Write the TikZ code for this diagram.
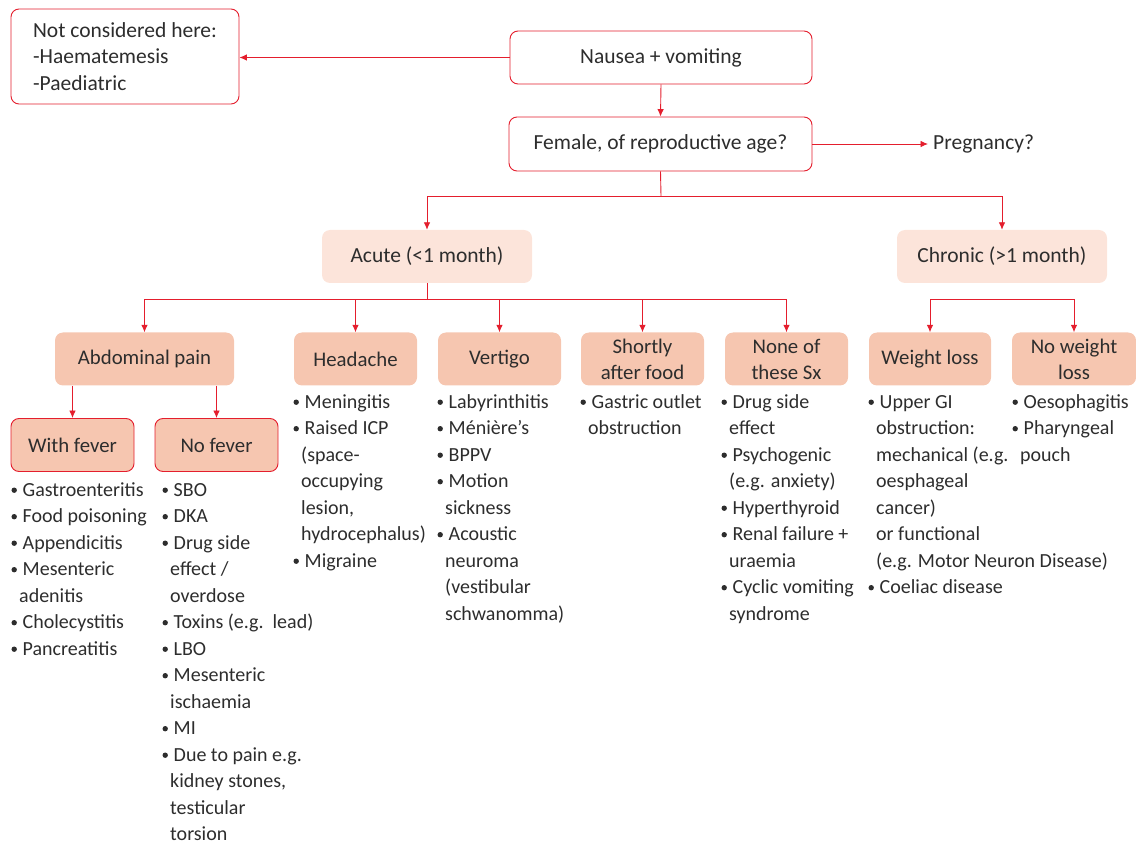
\documentclass[tikz,border=0pt]{standalone}
\usepackage{fontspec}
\setmainfont{Carlito}
\usetikzlibrary{arrows.meta}
\definecolor{redl}{RGB}{228,30,45}
\definecolor{peach}{RGB}{246,198,176}
\definecolor{lpeach}{RGB}{252,228,218}
\definecolor{txt}{RGB}{45,45,45}
\newcommand\bl{\makebox[11.5pt][l]{\hspace{0.3pt}\raisebox{3.3pt}{\tikz\fill[txt] (0pt,0pt) circle[radius=2.7pt];}}}
\newcommand\cn{\hspace*{8pt}}
\newcommand\fl{\rule{0pt}{15pt}}
\begin{document}
\begin{tikzpicture}[x=1pt,y=-1pt,
 every node/.style={text=txt, font=\fontsize{20}{26.5}\selectfont, inner sep=0pt},
 big/.style={font=\fontsize{21.5}{26.8}\selectfont},
 mid/.style={font=\fontsize{20.8}{26}\selectfont},
 wbox/.style={big, draw=redl, line width=0.9pt, fill=white, rounded corners=8pt},
 dbox/.style={mid, fill=peach, rounded corners=8pt, minimum width=123pt, minimum height=53pt, align=center},
 lbox/.style={big, fill=lpeach, rounded corners=8pt, minimum width=210pt, minimum height=53pt},
 fbox/.style={dbox, draw=redl, line width=0.9pt},
 lst/.style={anchor=north west, align=left},
 arr/.style={draw=redl, line width=0.9pt, -{Latex[length=7.5pt,width=6.5pt]}},
 ln/.style={draw=redl, line width=0.9pt}]
\useasboundingbox (0,0) rectangle (1136,842);

\node[wbox, minimum width=228pt, minimum height=95pt, align=left] (nc) at (125,56.5)
  {\rule{0pt}{0pt}Not considered here:\\-Haematemesis\\-Paediatric};
\node[wbox, minimum width=302pt, minimum height=53pt] (nv) at (661,57.5) {Nausea + vomiting};
\node[wbox, minimum width=303pt, minimum height=54pt] (fe) at (660.5,144) {Female, of reproductive age?};
\node[big, anchor=west, inner xsep=5pt] (pr) at (928,144) {Pregnancy?};

\node[lbox] (ac) at (427,256.5) {Acute (<1 month)};
\node[lbox] (ch) at (1002,256.5) {Chronic (>1 month)};

\node[dbox, minimum width=179pt] (ab) at (144.5,359) {Abdominal pain};
\node[dbox] (hd) at (355.5,359) {Headache};
\node[dbox] (vt) at (499.5,359) {Vertigo};
\node[dbox] (sf) at (642.5,359) {Shortly\\after food};
\node[dbox] (ns) at (786.5,359) {None of\\these Sx};
\node[dbox, minimum width=122pt] (wl) at (930,359) {Weight loss};
\node[dbox, minimum width=124pt] (nw) at (1074,359) {No weight\\loss};

\node[fbox] (wf) at (72.5,445) {With fever};
\node[fbox] (nf) at (216.5,445) {No fever};

% connectors
\draw[arr] (nv.west) -- (nc.east |- nv.west);
\draw[arr] (nv.south) -- (fe.north);
\draw[arr] (fe.east) -- (pr.west);
\coordinate (j1) at (661,196);
\draw[ln] (fe.south) -- (j1);
\draw[arr] (j1) -| (ac.north);
\draw[arr] (j1) -| (ch.north);
\coordinate (j2) at (427,299);
\draw[ln] (ac.south) -- (j2);
\draw[arr] (j2) -| (ab.north);
\draw[arr] (j2) -| (hd.north);
\draw[arr] (j2) -| (vt.north);
\draw[arr] (j2) -| (sf.north);
\draw[arr] (j2) -| (ns.north);
\coordinate (j3) at (1002,299);
\draw[arr] (j3) -| (wl.north);
\draw[arr] (j3) -| (nw.north);
\draw[arr] (ab.south -| wf.north) -- (wf.north);
\draw[arr] (ab.south -| nf.north) -- (nf.north);

% lists
\node[lst] (l1) at (11,481) {\fl\bl Gastroenteritis\\ \bl Food poisoning\\ \bl Appendicitis\\ \bl Mesenteric\\ \cn adenitis\\ \bl Cholecystitis\\ \bl Pancreatitis};
\node[lst] (l2) at (162,481) {\fl\bl SBO\\ \bl DKA\\ \bl Drug side\\ \cn effect /\\ \cn overdose\\ \bl Toxins (e.g.\ \ lead)\\ \bl LBO\\ \bl Mesenteric\\ \cn ischaemia\\ \bl MI\\ \bl Due to pain e.g.\\ \cn kidney stones,\\ \cn testicular\\ \cn torsion};
\node[lst] (l3) at (293,393) {\fl\bl Meningitis\\ \bl Raised ICP\\ \cn (space-\\ \cn occupying\\ \cn lesion,\\ \cn hydrocephalus)\\ \bl Migraine};
\node[lst] (l4) at (437,393) {\fl\bl Labyrinthitis\\ \bl Ménière’s\\ \bl BPPV\\ \bl Motion\\ \cn sickness\\ \bl Acoustic\\ \cn neuroma\\ \cn (vestibular\\ \cn schwanomma)};
\node[lst] (l5) at (580,393) {\fl\bl Gastric outlet\\ \cn obstruction};
\node[lst] (l6) at (721,393) {\fl\bl Drug side\\ \cn effect\\ \bl Psychogenic\\ \cn (e.g. anxiety)\\ \bl Hyperthyroid\\ \bl Renal failure +\\ \cn uraemia\\ \bl Cyclic vomiting\\ \cn syndrome};
\node[lst] (l7) at (868,393) {\fl\bl Upper GI\\ \cn obstruction:\\ \cn mechanical (e.g.\\ \cn oesphageal\\ \cn cancer)\\ \cn or functional\\ \cn (e.g. Motor Neuron Disease)\\ \bl Coeliac disease};
\node[lst] (l8) at (1012,393) {\fl\bl Oesophagitis\\ \bl Pharyngeal\\ \cn pouch};
\end{tikzpicture}
\end{document}
